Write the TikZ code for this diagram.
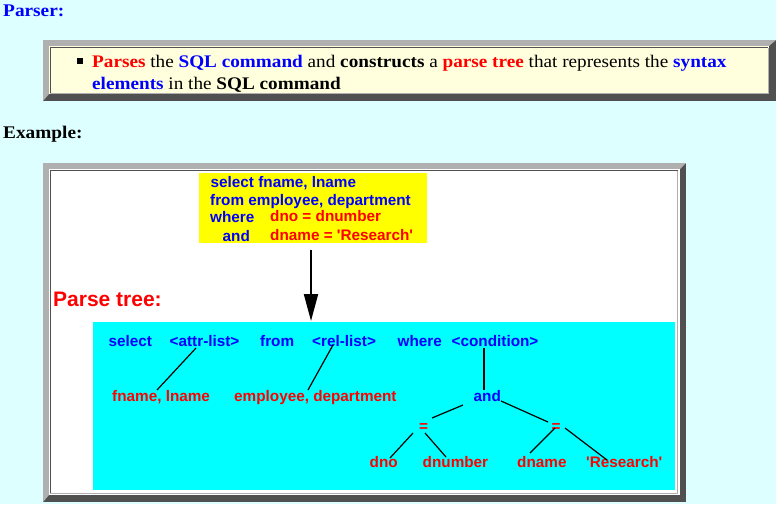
\documentclass[tikz,border=0pt]{standalone}
\usepackage{fontspec}
\setmainfont[FakeStretch=1.085]{Liberation Serif}
\newfontfamily\sansf{Liberation Sans}
\usetikzlibrary{arrows.meta}
\definecolor{bgc}{HTML}{DDFFFF}
\definecolor{ltgrey}{HTML}{B0B0B0}
\definecolor{dkgrey}{HTML}{505050}
\definecolor{creamc}{HTML}{FFFFDD}
\definecolor{cyanc}{HTML}{00FFFF}
\definecolor{yellowc}{HTML}{FFFF00}
\definecolor{redc}{HTML}{FF0000}
\definecolor{bluec}{HTML}{0000FF}
\tikzset{
  head/.style={anchor=base west, inner sep=0pt, font=\fontsize{17.8}{21}\selectfont\bfseries},
  body/.style={anchor=base west, inner sep=0pt, font=\fontsize{17.7}{21}\selectfont},
  sq/.style={anchor=base west, inner sep=0pt, font=\sansf\fontsize{15.3}{18}\selectfont\bfseries},
  sqb/.style={sq, text=bluec},
  sqr/.style={sq, text=redc},
  edge/.style={line width=1.2pt, black},
}
\begin{document}
\begin{tikzpicture}[x=1pt,y=-1pt]
\useasboundingbox (0,0) rectangle (776,504);
\fill[bgc] (0,0) rectangle (776,504);
% headings
\node[head, text=bluec] (parser) at (3,16) {Parser:};
\node[head, text=black] (example) at (3,138) {Example:};
% box 1
\fill[dkgrey] (43,40) rectangle (776,101);
\fill[ltgrey] (43,40) -- (776,40) -- (769,46) -- (49,46) -- (49,94) -- (43,101) -- cycle;
\fill[creamc] (49,46) rectangle (769,94);
\draw[dkgrey, line width=1pt] (50,93.5) -- (50,47.5) -- (768,47.5);
\draw[ltgrey, line width=1pt] (50,93.5) -- (768,93.5) -- (768,47.5);
\fill[black] (77,58) rectangle (83,64);
\node[body] (l1) at (92,67) {{\color{redc}\bfseries Parses} the {\color{bluec}\bfseries SQL command} and {\bfseries constructs} a {\color{redc}\bfseries parse tree} that represents the {\color{bluec}\bfseries syntax}};
\node[body] (l2) at (92,89) {{\color{bluec}\bfseries elements} in the {\bfseries SQL command}};
% box 2
\fill[dkgrey] (43,163) rectangle (686,502);
\fill[ltgrey] (43,163) -- (686,163) -- (680,169) -- (49,169) -- (49,495) -- (43,502) -- cycle;
\fill[white] (49,169) rectangle (680,495);
\draw[dkgrey, line width=1.2pt] (50.2,493) -- (50.2,170.6) -- (678,170.6);
\draw[ltgrey, line width=1pt] (50.2,493) -- (677.5,493) -- (677.5,170.6);
% yellow SQL box
\fill[yellowc] (199,173) rectangle (427,243);
\node[sqb] (s1) at (210.5,187) {select fname, lname};
\node[sqb] (s2) at (210,205) {from employee, department};
\node[sqb] (s3) at (210,222.5) {where};
\node[sqr] (s4) at (270,221.5) {dno = dnumber};
\node[sqb] (s5) at (222.5,241.5) {and};
\node[sqr] (s6) at (270,240) {dname = 'Research'};
% parse tree label
\node[anchor=base west, inner sep=0pt, text=redc, font=\sansf\fontsize{21}{24}\selectfont\bfseries] (pt) at (53,306) {Parse tree:};
% arrow
\coordinate (arrS) at (311,250);
\coordinate (arrE) at (311,321);
\draw[line width=2pt, -{Triangle[length=27pt,width=14pt]}] (arrS) -- (arrE);
% cyan box
\fill[cyanc] (93,322) rectangle (675,490);
\node[sqb] (sel) at (108.5,346) {select};
\node[sqb] (attr) at (169.5,346) {<attr-list>};
\node[sqb] (from) at (260,346) {from};
\node[sqb] (rel) at (312,346) {<rel-list>};
\node[sqb] (where) at (397.5,346) {where};
\node[sqb] (cond) at (451.5,346) {<condition>};
\node[sqr] (fl) at (112,401) {fname, lname};
\node[sqr] (ed) at (234,401) {employee, department};
\node[sqb] (and) at (473.5,401) {and};
\node[sqr] (eqL) at (419,431) {=};
\node[sqr] (eqR) at (551.5,431) {=};
\node[sqr] (dno) at (369.5,467) {dno};
\node[sqr] (dnum) at (422.5,467) {dnumber};
\node[sqr] (dname) at (517,467) {dname};
\node[sqr] (res) at (586,467) {'Research'};
% connector endpoints
\coordinate (a1) at (196,348); \coordinate (a2) at (157,390);
\coordinate (r1) at (333,345); \coordinate (r2) at (308,390);
\coordinate (c1) at (484,348); \coordinate (c2) at (484,390);
\coordinate (n1) at (463,405); \coordinate (n2) at (432,418);
\coordinate (m1) at (501,401); \coordinate (m2) at (548,422);
\coordinate (e1) at (413,433); \coordinate (e2) at (390,458);
\coordinate (f1) at (425,433); \coordinate (f2) at (446,457);
\coordinate (g1) at (555,428); \coordinate (g2) at (530,453);
\coordinate (h1) at (565,428); \coordinate (h2) at (607,460);
\draw[edge] (a1) -- (a2);
\draw[edge] (r1) -- (r2);
\draw[edge] (c1) -- (c2);
\draw[edge] (n1) -- (n2);
\draw[edge] (m1) -- (m2);
\draw[edge] (e1) -- (e2);
\draw[edge] (f1) -- (f2);
\draw[edge] (g1) -- (g2);
\draw[edge] (h1) -- (h2);
\end{tikzpicture}
\end{document}
